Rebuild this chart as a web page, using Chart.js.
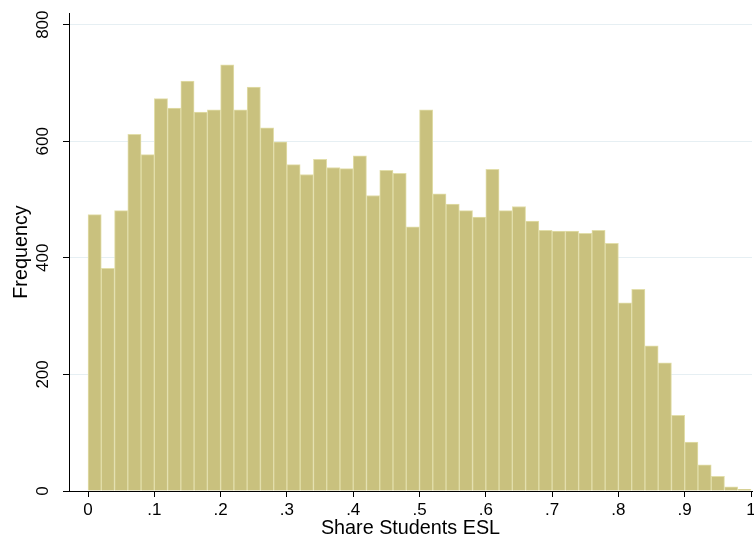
<!DOCTYPE html>
<html>
<head>
<meta charset="utf-8">
<title>Share Students ESL</title>
<script src="https://cdn.jsdelivr.net/npm/chart.js@4"></script>
<style>
  html, body { margin: 0; padding: 0; background: #fff; }
  #wrap { width: 754px; height: 543px; position: relative; }
</style>
</head>
<body>
<div id="wrap"><canvas id="c" width="754" height="543"></canvas></div>
<script>
// Histogram of the share of ESL students, bins of width 0.02
const binWidth = 0.02;
const binStarts = [
  0.00, 0.02, 0.04, 0.06, 0.08, 0.10, 0.12, 0.14, 0.16, 0.18,
  0.20, 0.22, 0.24, 0.26, 0.28, 0.30, 0.32, 0.34, 0.36, 0.38,
  0.40, 0.42, 0.44, 0.46, 0.48, 0.50, 0.52, 0.54, 0.56, 0.58,
  0.60, 0.62, 0.64, 0.66, 0.68, 0.70, 0.72, 0.74, 0.76, 0.78,
  0.80, 0.82, 0.84, 0.86, 0.88, 0.90, 0.92, 0.94, 0.96, 0.98
];
const frequencies = [
  474, 382, 481, 612, 577, 673, 657, 703, 650, 654,
  731, 654, 693, 623, 599, 560, 543, 569, 555, 553,
  575, 507, 550, 545, 453, 654, 510, 492, 481, 470,
  552, 481, 488, 463, 447, 446, 446, 442, 447, 425,
  323, 346, 249, 220, 130, 84, 45, 25, 7, 3
];
const xTicks = [0, 0.1, 0.2, 0.3, 0.4, 0.5, 0.6, 0.7, 0.8, 0.9, 1];
const yTicks = [0, 200, 400, 600, 800];
const xTitle = 'Share Students ESL';
const yTitle = 'Frequency';

const FONT = '"Liberation Sans", Arial, Helvetica, sans-serif';

function fmtX(v) {
  if (v === 0) return '0';
  if (v === 1) return '1';
  return '.' + Math.round(v * 10);
}

// Tick labels and axis titles, placed through the chart's scales
const axisText = {
  id: 'axisText',
  afterDraw(chart) {
    const ctx = chart.ctx;
    const xs = chart.scales.x, ys = chart.scales.y;
    ctx.save();
    ctx.fillStyle = '#000';
    ctx.font = '17px ' + FONT;
    ctx.textAlign = 'center';
    ctx.textBaseline = 'middle';
    xTicks.forEach(v => {
      ctx.fillText(fmtX(v), xs.getPixelForValue(v), xs.top + 19);
    });
    ys.ticks.forEach(t => {
      const py = ys.getPixelForValue(t.value);
      ctx.save();
      ctx.translate(ys.right - 26, py);
      ctx.rotate(-Math.PI / 2);
      ctx.fillText(String(t.value), 0, 0);
      ctx.restore();
    });
    ctx.font = '19.8px ' + FONT;
    const ca = chart.chartArea;
    ctx.fillText(xTitle, (ca.left + ca.right) / 2, 529);
    ctx.save();
    ctx.translate(22, (ca.top + ca.bottom) / 2);
    ctx.rotate(-Math.PI / 2);
    ctx.fillText(yTitle, 0, 0);
    ctx.restore();
    ctx.restore();
  }
};

new Chart(document.getElementById('c'), {
  type: 'bar',
  data: {
    datasets: [{
      data: binStarts.map((s, i) => ({ x: s + binWidth / 2, y: frequencies[i] })),
      backgroundColor: 'rgb(201,193,126)',
      borderColor: 'rgb(226,222,170)',
      borderWidth: 1,
      barPercentage: 1,
      categoryPercentage: 1,
      borderSkipped: 'bottom'
    }]
  },
  options: {
    responsive: false,
    animation: false,
    layout: { padding: { top: 13, right: 2, left: 0, bottom: 0 } },
    plugins: { legend: { display: false }, tooltip: { enabled: false } },
    scales: {
      x: {
        type: 'linear',
        offset: false,
        min: -0.0287,
        max: 1.0015,
        afterBuildTicks: s => { s.ticks = xTicks.map(v => ({ value: v })); },
        afterFit: s => { s.height = 52; },
        ticks: { display: false },
        grid: { display: true, offset: false, drawOnChartArea: false, drawTicks: true, tickLength: 6, tickColor: '#000', lineWidth: 1 },
        border: { display: true, color: '#000', width: 1 }
      },
      y: {
        type: 'linear',
        min: 0,
        max: 820,
        afterBuildTicks: s => { s.ticks = yTicks.map(v => ({ value: v })); },
        afterFit: s => { s.width = 69; },
        ticks: { display: false },
        grid: { display: true, drawOnChartArea: true, color: '#e6eff3', drawTicks: true, tickLength: 6, tickColor: '#000', lineWidth: 1 },
        border: { display: true, color: '#000', width: 1 }
      }
    }
  },
  plugins: [axisText]
});
</script>
</body>
</html>
